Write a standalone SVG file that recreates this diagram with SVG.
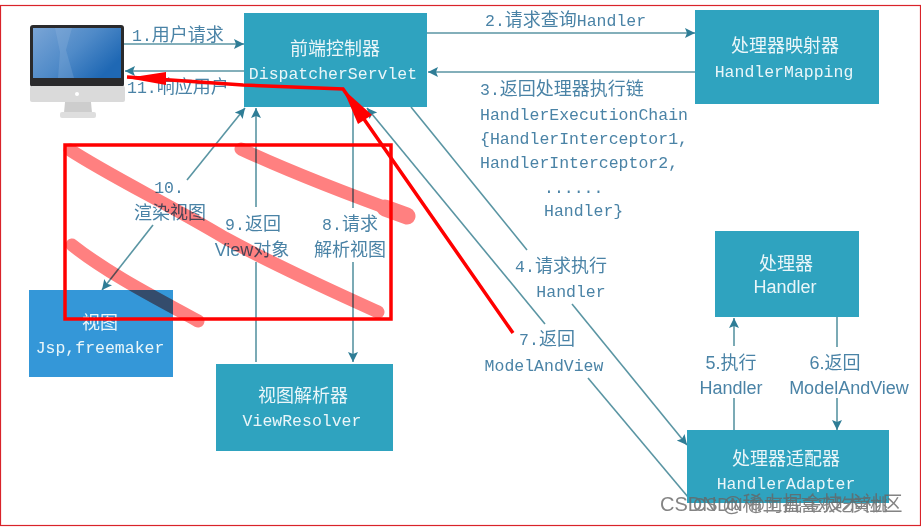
<svg xmlns="http://www.w3.org/2000/svg" width="921" height="527" viewBox="0 0 921 527">
<style>
.box{fill:#2fa3bf}
.cjk{font-family:"Noto Sans CJK SC",sans-serif;font-size:18px}
.t{font-family:"Liberation Mono","Noto Sans CJK SC",monospace;font-size:16.5px}
.s{font-family:"Liberation Sans","Noto Sans CJK SC",sans-serif;font-size:18px}
.z{font-family:"Noto Sans CJK SC",sans-serif;font-size:18px}
.w{fill:#eaf6f9;text-anchor:middle}
.l{fill:#4a83a6}
.m{text-anchor:middle}
.c{fill:none;stroke:#5a95a3;stroke-width:1.6}
.p{fill:none;stroke:#ff8080;stroke-width:13;stroke-linecap:round;stroke-linejoin:round}
</style>
<defs>
<marker id="a" markerUnits="userSpaceOnUse" markerWidth="12" markerHeight="12" refX="10" refY="5" orient="auto"><path d="M0 0L10 5L0 10L2 5Z" fill="#2f7d96"/></marker>
<linearGradient id="scr" x1="0" y1="0" x2="1" y2="0.6"><stop offset="0" stop-color="#7aa5d6"/><stop offset=".55" stop-color="#4f8ac8"/><stop offset="1" stop-color="#1f68b4"/></linearGradient>
</defs>
<rect width="921" height="527" fill="#fff"/>
<rect x="0.5" y="5.5" width="920" height="520" fill="none" stroke="#d9232a" stroke-width="1.2"/>

<g id="connectors">
<path class="c" marker-end="url(#a)" d="M124 44H244"/>
<path class="c" marker-end="url(#a)" d="M244 71H125"/>
<path class="c" marker-end="url(#a)" d="M427 33H695"/>
<path class="c" marker-end="url(#a)" d="M695 72H428"/>
<path class="c" marker-end="url(#a)" d="M187 180L245 108"/>
<path class="c" marker-end="url(#a)" d="M153 225L102 290"/>
<path class="c" marker-end="url(#a)" d="M256 207V108"/>
<path class="c" d="M256 362V262"/>
<path class="c" d="M353 108V208"/>
<path class="c" marker-end="url(#a)" d="M353 262V362"/>
<path class="c" d="M411 107L527 250"/>
<path class="c" marker-end="url(#a)" d="M572 304L687 445"/>
<path class="c" marker-end="url(#a)" d="M545 324L367 108"/>
<path class="c" d="M588 378L688 497"/>
<path class="c" marker-end="url(#a)" d="M734 346V318"/>
<path class="c" d="M734 398V430"/>
<path class="c" d="M837 317V347"/>
<path class="c" marker-end="url(#a)" d="M837 398V430"/>
</g>

<g id="node-user">
<rect x="30" y="25" width="94" height="62" rx="3" fill="#2a2a2c"/>
<rect x="33" y="28" width="88" height="50" fill="url(#scr)"/>
<path d="M55 28H72L66 50L74 78H58L60 52Z" fill="#9dbde0" opacity=".25"/>
<rect x="30" y="86" width="95" height="16" rx="2" fill="#dadada"/>
<circle cx="77" cy="94" r="2" fill="#fff"/>
<path d="M65 102H91L92 113H64Z" fill="#cdcdcd"/>
<rect x="60" y="112" width="36" height="6" rx="2" fill="#dedede"/>
</g>

<g id="node-dispatcher">
<rect class="box" x="244" y="13" width="183" height="94"/>
<text class="cjk w" x="335" y="55">前端控制器</text>
<text class="t w" x="333" y="79">DispatcherServlet</text>
</g>
<g id="node-handlermapping">
<rect class="box" x="695" y="10" width="184" height="94"/>
<text class="cjk w" x="785" y="52">处理器映射器</text>
<text class="t w" x="784" y="77">HandlerMapping</text>
</g>
<g id="node-handler">
<rect class="box" x="715" y="231" width="144" height="86"/>
<text class="cjk w" x="786" y="270">处理器</text>
<text class="s w" x="785" y="293">Handler</text>
</g>
<g id="node-adapter">
<rect class="box" x="687" y="430" width="202" height="73"/>
<text class="cjk w" x="786" y="465">处理器适配器</text>
<text class="t w" x="786" y="489">HandlerAdapter</text>
</g>
<g id="node-view">
<rect x="29" y="290" width="144" height="87" fill="#3497d8"/>
<text class="cjk w" x="100" y="329">视图</text>
<text class="t w" x="100" y="353">Jsp,freemaker</text>
</g>
<g id="node-viewresolver">
<rect class="box" x="216" y="364" width="177" height="87"/>
<text class="cjk w" x="303" y="402">视图解析器</text>
<text class="t w" x="302" y="426">ViewResolver</text>
</g>

<g id="labels">
<text class="t l" x="132" y="41">1.<tspan class="z">用户请求</tspan></text>
<text class="t l" x="127" y="93">11.<tspan class="z">响应用户</tspan></text>
<text class="t l" x="485" y="26">2.<tspan class="z">请求查询</tspan>Handler</text>
<text class="t l" x="480" y="95">3.<tspan class="z">返回处理器执行链</tspan></text>
<text class="t l" x="480" y="120">HandlerExecutionChain</text>
<text class="t l" x="480" y="144">{HandlerInterceptor1,</text>
<text class="t l" x="480" y="168">HandlerInterceptor2,</text>
<text class="t l" x="544" y="193">......</text>
<text class="t l" x="544" y="216">Handler}</text>
<text class="t l m" x="169" y="193">10.</text>
<text class="cjk l m" x="170" y="219">渲染视图</text>
<text class="t l m" x="253" y="230">9.<tspan class="z">返回</tspan></text>
<text class="s l m" x="252" y="256" font-size="16">View<tspan class="z">对象</tspan></text>
<text class="t l m" x="350" y="230">8.<tspan class="z">请求</tspan></text>
<text class="cjk l m" x="350" y="256">解析视图</text>
<text class="t l m" x="561" y="272">4.<tspan class="z">请求执行</tspan></text>
<text class="t l m" x="571" y="297">Handler</text>
<text class="t l m" x="547" y="345">7.<tspan class="z">返回</tspan></text>
<text class="t l m" x="544" y="371">ModelAndView</text>
<text class="s l m" x="731" y="369">5.执行</text>
<text class="s l m" x="731" y="394">Handler</text>
<text class="s l m" x="835" y="369">6.返回</text>
<text class="s l m" x="849" y="394">ModelAndView</text>
</g>

<g id="scribbles" fill="none">
<g style="mix-blend-mode:multiply">
<path class="p" d="M70 150C110 176 170 205 225 238C280 268 330 290 378 312"/>
<path class="p" d="M241 149C290 172 350 195 408 216"/>
<path class="p" d="M72 245C110 275 160 300 198 321"/>
<path class="p" style="stroke-width:17" d="M385 208L407 216"/>
</g>
<rect x="65" y="145" width="326" height="174" fill="none" stroke="#f00" stroke-width="3.5"/>
<path d="M127 77L243 85L343 89L513 333" fill="none" stroke="#f00" stroke-width="3.5"/>
<path d="M127 78L166 72L166 85Z" fill="#f00"/>
<path d="M343 89L372 115L358 124Z" fill="#f00"/>
</g>

<g id="watermark" font-family="Liberation Sans,Noto Sans CJK SC,sans-serif" fill="#666" opacity=".8">
<text x="660" y="511" font-size="20">CSDN @稀土掘金技术社区</text>
<text x="693" y="511" font-size="17.5">CSDN @阿昌喜欢吃黄桃</text>
</g>
</svg>
